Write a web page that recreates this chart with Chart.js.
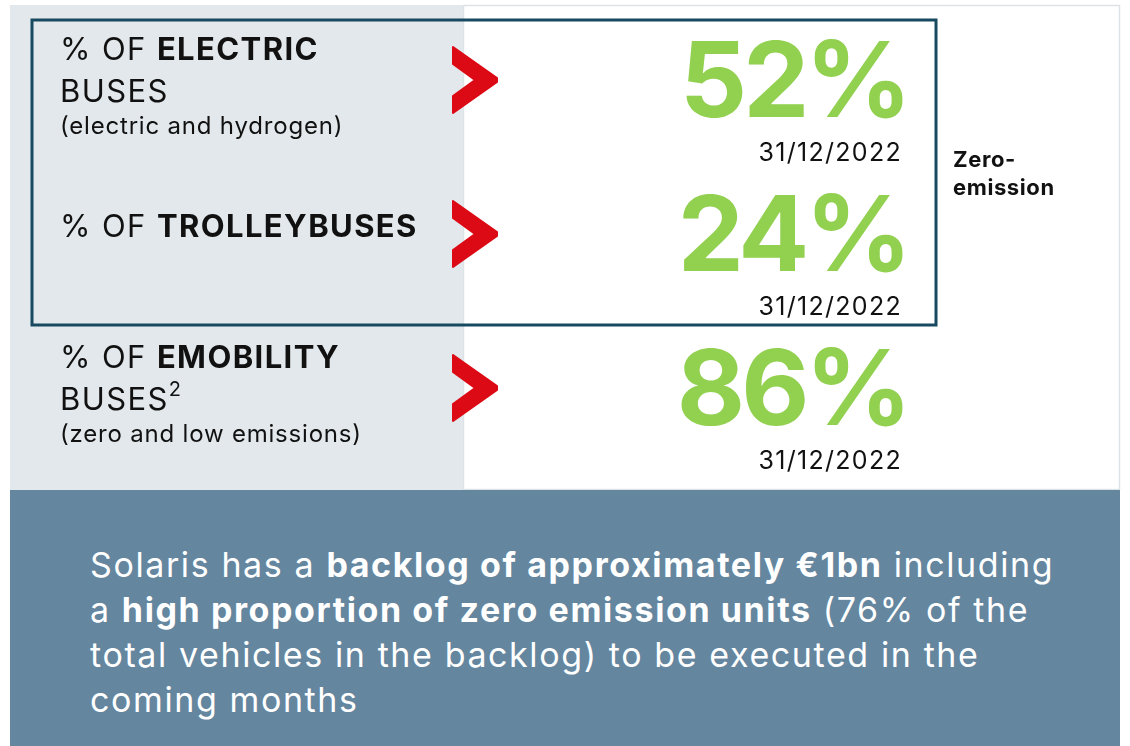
<!DOCTYPE html>
<html>
<head>
<meta charset="utf-8">
<script src="https://cdn.jsdelivr.net/npm/chart.js@4.4.0/dist/chart.umd.min.js"></script>
<style>
  html, body { margin: 0; padding: 0; background: #fff; }
  body { width: 1130px; height: 746px; position: relative; overflow: hidden; font-family: 'Inter', sans-serif; }
  #wrap { position: absolute; left: 0; top: 0; width: 1130px; height: 490px; }
  #note {
    position: absolute; left: 10px; top: 490px; width: 1110px; height: 256px;
    background: #64869f; color: #fff; box-sizing: border-box;
    padding: 52px 0 0 80px; font-size: 34px; line-height: 45px; letter-spacing: 1.6px; white-space: nowrap;
  }
  #note b { font-weight: 700; }
</style>
</head>
<body>
<div id="wrap"><canvas id="kpi"></canvas></div>
<div id="note">Solaris has a <b>backlog of approximately €1bn</b> including<br>a <b>high proportion of zero emission units</b> (76% of the<br>total vehicles in the backlog) to be executed in the<br>coming months</div>
<script>
// ── Veri ─────────────────────────────────────────────
var categories = ['ELECTRIC', 'TROLLEYBUSES', 'EMOBILITY'];
var shares     = [52, 24, 86];
var asOf       = ['31/12/2022', '31/12/2022', '31/12/2022'];
var subLines   = [['BUSES', '(electric and hydrogen)'], [], ['BUSES', '(zero and low emissions)']];
var footnotes  = ['', '', '2'];
var groupLabel = ['Zero-', 'emission'];

var C = {
  grey: '#e2e8eb', frame: '#dde4e8', box: '#174a60',
  red: '#dc0a15', green: '#92d050', ink: '#111'
};
var FONT = 'Inter';

function chevron(ctx, cx, cy) {
  var L = cx - 22, R = cx + 22;
  ctx.save();
  ctx.fillStyle = C.red; ctx.strokeStyle = C.red;
  ctx.lineWidth = 2; ctx.lineJoin = 'round';
  ctx.beginPath();
  ctx.moveTo(L, cy - 33);
  ctx.lineTo(R, cy - 2);
  ctx.lineTo(R, cy + 2);
  ctx.lineTo(L, cy + 33);
  ctx.lineTo(L, cy + 16);
  ctx.lineTo(cx, cy);
  ctx.lineTo(L, cy - 16);
  ctx.closePath();
  ctx.fill(); ctx.stroke();
  ctx.restore();
}

// ── Zemin panelleri ──────────────────────────────────
var panels = {
  id: 'panels',
  beforeDraw: function(chart) {
    var ctx = chart.ctx;
    ctx.save();
    ctx.fillStyle = C.grey;
    ctx.fillRect(10, 5, 453, 485);
    ctx.fillStyle = '#fff';
    ctx.fillRect(463, 5, 657, 485);
    ctx.strokeStyle = C.frame; ctx.lineWidth = 1.5;
    ctx.strokeRect(463.5, 5.5, 656, 484);
    ctx.restore();
  }
};

// ── Satır içerikleri ─────────────────────────────────
var rows = {
  id: 'rows',
  afterDatasetsDraw: function(chart) {
    var ctx = chart.ctx;
    var meta = chart.getDatasetMeta(0);
    var ys = meta.data.map(function(el) { return el.y; });
    ctx.save();

    // zero-emission çerçevesi (ilk iki satır)
    var top = ys[0] - 60, bot = ys[1] + 91;
    ctx.strokeStyle = C.box; ctx.lineWidth = 3;
    ctx.strokeRect(32, top, 904, bot - top);
    var mid = (top + bot) / 2;
    ctx.fillStyle = C.ink;
    ctx.font = 'bold 22px ' + FONT;
    ctx.letterSpacing = '0.6px';
    ctx.textAlign = 'left'; ctx.textBaseline = 'alphabetic';
    ctx.fillText(groupLabel[0], 953, mid - 6);
    ctx.fillText(groupLabel[1], 953, mid + 22);

    ys.forEach(function(y, i) {
      var hasSub = subLines[i].length > 0;
      var base = hasSub ? y - 20 : y + 3;
      ctx.fillStyle = C.ink;
      ctx.textAlign = 'left';
      ctx.letterSpacing = '1.4px';
      ctx.font = '31px ' + FONT;
      var pre = '% OF ';
      ctx.fillText(pre, 60, base);
      var w = ctx.measureText(pre).width;
      ctx.font = 'bold 31px ' + FONT;
      ctx.fillText(categories[i], 60 + w, base);
      if (hasSub) {
        ctx.font = '31px ' + FONT;
        ctx.fillText(subLines[i][0], 60, y + 22);
        if (footnotes[i]) {
          var bw = ctx.measureText(subLines[i][0]).width;
          ctx.font = '20px ' + FONT;
          ctx.fillText(footnotes[i], 60 + bw, y + 8);
        }
        ctx.letterSpacing = '0.8px';
        ctx.font = '24px ' + FONT;
        ctx.fillText(subLines[i][1], 60, y + 54);
      }

      chevron(ctx, 475, y);

      ctx.textAlign = 'right';
      ctx.fillStyle = C.green;
      ctx.letterSpacing = '-4px';
      ctx.font = 'bold 105px ' + FONT;
      ctx.fillText(shares[i] + '%', 908, y + 37);

      ctx.fillStyle = C.ink;
      ctx.letterSpacing = '1.3px';
      ctx.font = '25px ' + FONT;
      ctx.fillText(asOf[i], 902, y + 81);
    });
    ctx.restore();
  }
};

new Chart(document.getElementById('kpi'), {
  type: 'bar',
  data: {
    labels: categories,
    datasets: [{ data: shares, backgroundColor: 'rgba(0,0,0,0)', borderWidth: 0 }]
  },
  options: {
    indexAxis: 'y',
    responsive: true,
    maintainAspectRatio: false,
    animation: false,
    layout: { padding: { top: 3, bottom: 25, left: 0, right: 0 } },
    plugins: { legend: { display: false }, tooltip: { enabled: false } },
    scales: {
      x: { display: false, min: 0, max: 100 },
      y: { display: false }
    }
  },
  plugins: [panels, rows]
});
</script>
</body>
</html>
